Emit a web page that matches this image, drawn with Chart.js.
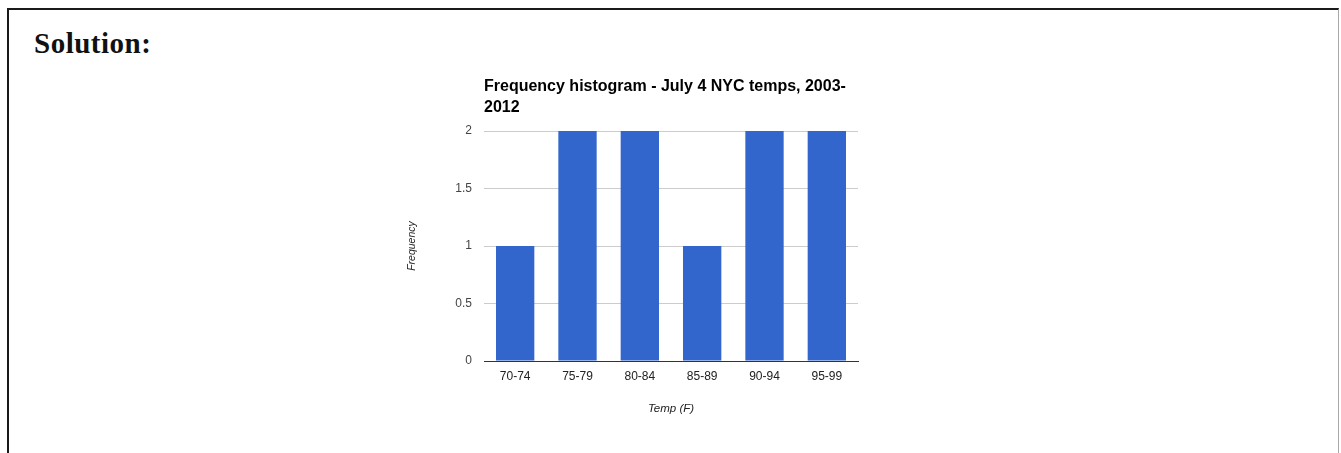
<!DOCTYPE html>
<html>
<head>
<meta charset="utf-8">
<script src="https://cdn.jsdelivr.net/npm/chart.js@4.4.1/dist/chart.umd.min.js"></script>
<style>
  html, body { margin: 0; padding: 0; background: #fff; width: 1341px; height: 453px; overflow: hidden; }
  #frame {
    position: absolute; left: 7px; top: 8px; width: 1332px; height: 470px;
    box-sizing: border-box;
    border-left: 2px solid #1a1a1a; border-top: 2px solid #1a1a1a; border-right: 1px solid #a8a8a8;
  }
  #heading {
    position: absolute; left: 34px; top: 28px; margin: 0;
    font: bold 29px/30px "Liberation Serif", "Times New Roman", serif; color: #111;
    letter-spacing: 0.5px;
  }
  #wrap { position: absolute; left: 0; top: 0; width: 1341px; height: 453px; }
</style>
</head>
<body>
<div id="frame"></div>
<h2 id="heading">Solution:</h2>
<div id="wrap"><canvas id="chart" width="1341" height="453"></canvas></div>
<script>
// Temperature bins (°F) and how many July 4ths fell into each, 2003-2012
const categories = ['70-74', '75-79', '80-84', '85-89', '90-94', '95-99'];
const frequencies = [1, 2, 2, 1, 2, 2];
const yTicks = [0, 0.5, 1, 1.5, 2];

const chartTitle = ['Frequency histogram - July 4 NYC temps, 2003-', '2012'];
const xTitle = 'Temp (F)';
const yTitle = 'Frequency';

const sans = 'Arial, "Liberation Sans", sans-serif';

new Chart(document.getElementById('chart'), {
  type: 'bar',
  data: {
    labels: categories,
    datasets: [{
      data: frequencies,
      backgroundColor: '#3366cc',
      borderWidth: 0,
      categoryPercentage: 1,
      barPercentage: 0.615
    }]
  },
  options: {
    responsive: false,
    animation: false,
    events: [],
    layout: { padding: { left: 406, right: 483, top: 61, bottom: 37 } },
    plugins: {
      legend: { display: false },
      tooltip: { enabled: false },
      title: {
        display: true,
        text: chartTitle,
        align: 'start',
        fullSize: false,
        color: '#000',
        font: { family: sans, size: 16, weight: 'bold', lineHeight: 20.5 / 16 },
        padding: { top: 15.5, bottom: 13.5 }
      }
    },
    scales: {
      x: {
        grid: { display: false, drawTicks: false },
        border: { display: true, color: '#333', width: 1 },
        ticks: {
          color: '#222', padding: 8, maxRotation: 0, autoSkip: false,
          font: { family: sans, size: 12 }
        },
        title: {
          display: true, text: xTitle, color: '#222', padding: 0,
          font: { family: sans, size: 11.5, style: 'italic' }
        },
        afterFit: s => { s.height = 55; }
      },
      y: {
        min: 0,
        max: 2,
        afterBuildTicks: s => { s.ticks = yTicks.map(v => ({ value: v })); },
        ticks: {
          color: '#444', padding: 12,
          font: { family: sans, size: 12 },
          callback: v => String(v)
        },
        grid: {
          drawTicks: false,
          color: ctx => (ctx.tick && ctx.tick.value === 0) ? '#333' : '#cccccc',
          lineWidth: 1
        },
        border: { display: false },
        title: {
          display: true, text: yTitle, color: '#222', padding: 0,
          font: { family: sans, size: 10.5, style: 'italic' }
        },
        afterFit: s => { s.width = 78; }
      }
    }
  }
});
</script>
</body>
</html>
